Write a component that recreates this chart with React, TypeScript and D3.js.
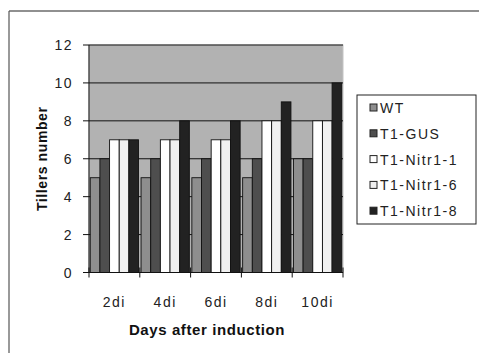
import React from 'react';
import * as d3 from 'd3';

const days = ['2di', '4di', '6di', '8di', '10di'];
const seriesNames = ['WT', 'T1-GUS', 'T1-Nitr1-1', 'T1-Nitr1-6', 'T1-Nitr1-8'];
const wt = [5, 5, 5, 5, 6];
const gus = [6, 6, 6, 6, 6];
const nitr1 = [7, 7, 7, 8, 8];
const nitr6 = [7, 7, 7, 8, 8];
const nitr8 = [7, 8, 8, 9, 10];
const yTicks = [0, 2, 4, 6, 8, 10, 12];

const seriesValues = [wt, gus, nitr1, nitr6, nitr8];
const colors = ['#8e8e8e', '#4e4e4e', '#ffffff', '#f0f0f0', '#222222'];

const W = 479;
const H = 355;
const plot = { left: 89, right: 343, top: 45, bottom: 272.5 };
const font = '"Liberation Sans", Arial, sans-serif';

export default function App() {
  const x = d3
    .scaleBand()
    .domain(days)
    .range([plot.left, plot.right])
    .paddingInner(0)
    .paddingOuter(0);
  const inner = d3
    .scaleBand()
    .domain(seriesNames)
    .range([0, x.bandwidth()])
    .paddingOuter(0.13);
  const y = d3.scaleLinear().domain([0, 12]).range([plot.bottom, plot.top]);
  const boundaries = d3.range(days.length + 1).map((i) => plot.left + i * x.bandwidth());

  return (
    <svg
      width={W}
      height={H}
      style={{ position: 'absolute', left: 0, top: 0, background: '#fff' }}
      fontFamily={font}
    >
      {/* outer chart border (only top and left visible) */}
      <line x1={9} x2={W} y1={11} y2={11} stroke="#222" strokeWidth={1.2} />
      <line x1={9} x2={9} y1={11} y2={353} stroke="#555" strokeWidth={1.2} />

      {/* plot area */}
      <rect
        x={plot.left}
        y={plot.top}
        width={plot.right - plot.left}
        height={plot.bottom - plot.top}
        fill="#b2b2b2"
        stroke="#c4c4c4"
      />
      {yTicks.map((t) => (
        <g key={t}>
          {t > 0 && (
            <line x1={plot.left} x2={plot.right} y1={y(t)} y2={y(t)} stroke="#111" strokeWidth={1} />
          )}
          <line x1={plot.left - 6} x2={plot.left} y1={y(t)} y2={y(t)} stroke="#111" />
          <text
            x={73}
            y={y(t)}
            dy="0.36em"
            textAnchor="end"
            fontSize={14}
            letterSpacing={1.5}
            fill="#222"
          >
            {t}
          </text>
        </g>
      ))}

      {/* bars */}
      {days.map((d, i) => (
        <g key={d} transform={`translate(${x(d)},0)`}>
          {seriesNames.map((s, j) => (
            <rect
              key={s}
              x={inner(s)}
              y={y(seriesValues[j][i])}
              width={inner.bandwidth()}
              height={plot.bottom - y(seriesValues[j][i])}
              fill={colors[j]}
              stroke="#111"
              strokeWidth={0.9}
            />
          ))}
        </g>
      ))}

      {/* axes */}
      <line x1={plot.left} x2={plot.left} y1={plot.top} y2={plot.bottom} stroke="#111" />
      <line x1={plot.left} x2={plot.right} y1={plot.bottom} y2={plot.bottom} stroke="#111" />
      {boundaries.map((b, i) => (
        <line key={i} x1={b} x2={b} y1={plot.bottom - 5} y2={plot.bottom + 5} stroke="#111" />
      ))}
      {days.map((d) => (
        <text
          key={d}
          x={(x(d) ?? 0) + x.bandwidth() / 2}
          y={302}
          dy="0.36em"
          textAnchor="middle"
          fontSize={14}
          letterSpacing={1.5}
          fill="#222"
        >
          {d}
        </text>
      ))}

      {/* axis titles */}
      <text
        x={207}
        y={330}
        dy="0.36em"
        textAnchor="middle"
        fontSize={15}
        letterSpacing={0.6}
        fontWeight="bold"
        fill="#111"
      >
        Days after induction
      </text>
      <text
        transform={`translate(42,${(plot.top + plot.bottom) / 2}) rotate(-90)`}
        dy="0.36em"
        textAnchor="middle"
        fontSize={14}
        letterSpacing={0.6}
        fontWeight="bold"
        fill="#111"
      >
        Tillers number
      </text>

      {/* legend */}
      <rect x={357} y={95} width={119} height={129} fill="#fff" stroke="#222" />
      {seriesNames.map((s, j) => (
        <g key={s} transform={`translate(0,${108 + j * 25.8})`}>
          <rect x={370} y={-4} width={7} height={7} fill={colors[j]} stroke="#222" />
          <text x={380} y={0} dy="0.36em" fontSize={14} letterSpacing={1.5} fill="#222">
            {s}
          </text>
        </g>
      ))}
    </svg>
  );
}
